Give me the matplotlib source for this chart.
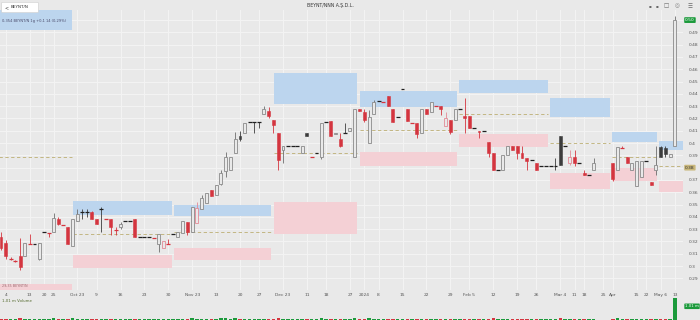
import matplotlib
matplotlib.use("Agg")
import matplotlib.pyplot as plt
from matplotlib.patches import Rectangle, FancyBboxPatch

# ---------------- data ----------------
opens = [0.324, 0.319, 0.306, 0.304, 0.308, 0.308, 0.318, 0.318, 0.306, 0.328,
         0.327, 0.328, 0.338, 0.333, 0.332, 0.316, 0.337, 0.344, 0.344, 0.344,
         0.338, 0.346, 0.338, 0.338, 0.329, 0.332, 0.337, 0.337, 0.338, 0.324,
         0.324, 0.324, 0.323, 0.318, 0.315, 0.318, 0.326, 0.324, 0.327, 0.336,
         0.328, 0.335, 0.346, 0.351, 0.362, 0.358, 0.367, 0.377, 0.378, 0.392,
         0.406, 0.408, 0.417, 0.417, 0.417, 0.424, 0.426, 0.419, 0.408, 0.394,
         0.398, 0.398, 0.398, 0.392, 0.408, 0.389, 0.392, 0.389, 0.417, 0.418,
         0.407, 0.403, 0.408, 0.410, 0.389, 0.428, 0.425, 0.400, 0.424, 0.434,
         0.433, 0.438, 0.428, 0.421, 0.444, 0.428, 0.416, 0.416, 0.408, 0.428,
         0.425, 0.430, 0.430, 0.414, 0.419, 0.419, 0.428, 0.422, 0.422, 0.412,
         0.410, 0.410, 0.401, 0.392, 0.378, 0.378, 0.390, 0.398, 0.398, 0.392,
         0.388, 0.386, 0.384, 0.381, 0.381, 0.381, 0.381, 0.406, 0.398, 0.384,
         0.389, 0.384, 0.376, 0.374, 0.378, None, None, None, 0.384, 0.378,
         0.396, 0.389, 0.378, 0.365, 0.372, 0.385, 0.368, 0.378, 0.397, 0.396,
         0.389, 0.398]
highs = [0.328, 0.321, 0.307, 0.305, 0.323, 0.319, 0.326, 0.318, 0.319, 0.328,
         0.327, 0.343, 0.340, 0.333, 0.332, 0.338, 0.346, 0.346, 0.346, 0.345,
         0.338, 0.348, 0.338, 0.338, 0.332, 0.336, 0.337, 0.337, 0.338, 0.324,
         0.324, 0.324, 0.323, 0.326, 0.320, 0.322, 0.326, 0.328, 0.337, 0.336,
         0.348, 0.352, 0.358, 0.359, 0.362, 0.366, 0.378, 0.393, 0.389, 0.409,
         0.410, 0.416, 0.417, 0.417, 0.417, 0.430, 0.429, 0.419, 0.408, 0.398,
         0.398, 0.398, 0.398, 0.398, 0.408, 0.389, 0.392, 0.416, 0.417, 0.418,
         0.408, 0.408, 0.416, 0.412, 0.428, 0.428, 0.428, 0.427, 0.435, 0.434,
         0.433, 0.438, 0.428, 0.421, 0.444, 0.428, 0.416, 0.416, 0.428, 0.428,
         0.433, 0.430, 0.430, 0.425, 0.419, 0.428, 0.428, 0.437, 0.422, 0.412,
         0.410, 0.410, 0.401, 0.392, 0.378, 0.390, 0.398, 0.398, 0.398, 0.398,
         0.388, 0.386, 0.384, 0.381, 0.381, 0.381, 0.388, 0.406, 0.398, 0.394,
         0.394, 0.384, 0.378, 0.374, 0.388, None, None, None, 0.384, 0.397,
         0.398, 0.389, 0.384, 0.385, 0.385, 0.385, 0.368, 0.398, 0.398, 0.398,
         0.391, 0.503]
lows = [0.313, 0.306, 0.305, 0.303, 0.297, 0.308, 0.318, 0.318, 0.305, 0.328,
        0.324, 0.328, 0.333, 0.333, 0.318, 0.316, 0.337, 0.338, 0.340, 0.338,
        0.334, 0.328, 0.338, 0.325, 0.325, 0.330, 0.337, 0.337, 0.324, 0.324,
        0.324, 0.324, 0.323, 0.311, 0.315, 0.318, 0.326, 0.324, 0.327, 0.325,
        0.328, 0.335, 0.346, 0.351, 0.357, 0.358, 0.366, 0.372, 0.378, 0.392,
        0.402, 0.408, 0.417, 0.408, 0.412, 0.424, 0.420, 0.408, 0.378, 0.384,
        0.398, 0.398, 0.398, 0.392, 0.406, 0.389, 0.392, 0.387, 0.417, 0.406,
        0.407, 0.397, 0.408, 0.410, 0.389, 0.426, 0.417, 0.400, 0.424, 0.434,
        0.433, 0.430, 0.417, 0.421, 0.444, 0.418, 0.416, 0.404, 0.408, 0.424,
        0.425, 0.430, 0.423, 0.414, 0.407, 0.419, 0.428, 0.408, 0.412, 0.412,
        0.404, 0.410, 0.389, 0.378, 0.378, 0.378, 0.390, 0.394, 0.387, 0.388,
        0.378, 0.386, 0.378, 0.381, 0.381, 0.381, 0.378, 0.382, 0.398, 0.382,
        0.381, 0.384, 0.374, 0.374, 0.378, None, None, None, 0.369, 0.378,
        0.396, 0.384, 0.378, 0.365, 0.372, 0.385, 0.366, 0.374, 0.389, 0.389,
        0.389, 0.398]
closes = [0.315, 0.308, 0.306, 0.304, 0.299, 0.319, 0.318, 0.318, 0.319, 0.328,
          0.327, 0.339, 0.334, 0.333, 0.318, 0.338, 0.342, 0.344, 0.344, 0.338,
          0.334, 0.346, 0.338, 0.332, 0.329, 0.334, 0.337, 0.337, 0.324, 0.324,
          0.324, 0.324, 0.323, 0.326, 0.320, 0.318, 0.326, 0.328, 0.337, 0.328,
          0.348, 0.347, 0.355, 0.359, 0.357, 0.366, 0.376, 0.389, 0.389, 0.403,
          0.403, 0.416, 0.417, 0.417, 0.417, 0.428, 0.422, 0.415, 0.386, 0.398,
          0.398, 0.398, 0.398, 0.398, 0.406, 0.389, 0.392, 0.416, 0.417, 0.406,
          0.408, 0.398, 0.408, 0.412, 0.428, 0.426, 0.419, 0.421, 0.433, 0.434,
          0.433, 0.430, 0.417, 0.421, 0.444, 0.418, 0.416, 0.407, 0.428, 0.424,
          0.433, 0.430, 0.428, 0.420, 0.409, 0.428, 0.428, 0.420, 0.412, 0.412,
          0.409, 0.410, 0.392, 0.378, 0.378, 0.390, 0.398, 0.394, 0.392, 0.388,
          0.385, 0.386, 0.378, 0.381, 0.381, 0.381, 0.381, 0.382, 0.398, 0.389,
          0.384, 0.384, 0.374, 0.374, 0.384, None, None, None, 0.371, 0.397,
          0.396, 0.384, 0.384, 0.385, 0.385, 0.385, 0.366, 0.382, 0.389, 0.391,
          0.391, 0.500]
volumes = [60, 55, 40, 35, 70, 65, 50, 45, 60, 55,
           50, 70, 60, 45, 65, 70, 60, 50, 45, 60,
           55, 65, 40, 60, 50, 45, 40, 40, 65, 40,
           40, 40, 40, 60, 50, 45, 45, 50, 60, 55,
           70, 65, 60, 65, 55, 60, 70, 75, 60, 70,
           65, 60, 40, 50, 45, 65, 60, 60, 80, 60,
           40, 40, 40, 55, 50, 40, 40, 75, 45, 65,
           45, 55, 50, 45, 80, 50, 60, 70, 60, 40,
           40, 60, 60, 40, 40, 60, 40, 60, 65, 55,
           55, 40, 50, 55, 60, 60, 40, 65, 60, 40,
           50, 40, 60, 70, 40, 60, 55, 50, 55, 50,
           50, 40, 55, 40, 40, 40, 50, 70, 40, 50,
           55, 40, 45, 40, 50, 0, 0, 0, 60, 70,
           45, 50, 50, 65, 60, 40, 45, 55, 60, 50,
           45, 1010]

tick_labels = ["4", "13", "20", "25", "Oct 23", "9", "16", "23", "30", "Nov 23",
               "13", "20", "27", "Dec 23", "11", "18", "27", "2024", "8", "15",
               "22", "29", "Feb 5", "12", "19", "26", "Mar 4", "11", "18", "25",
               "Apr", "15", "22", "May 6", "13"]
tick_idx = [1, 6, 9, 11, 16, 20, 25, 30, 35, 40,
            45, 50, 54, 59, 64, 68, 73, 76, 79, 84,
            89, 94, 98, 103, 108, 112, 117, 120, 122, 126,
            128, 133, 135, 138, 141]

# monthly zones (index span, supply box, demand box, mid line)
zone_start = [-0.5, 15.1, 36.2, 57.1, 75.1, 95.8, 114.9, 127.8, 137.7]
zone_end = [14.8, 35.8, 56.5, 74.5, 95.4, 114.4, 127.4, 137.2, 143.0]
supply_lo = [0.492, 0.3415, 0.341, 0.432, 0.429, 0.441, 0.421, 0.401, 0.394]
supply_hi = [0.520, 0.3529, 0.350, 0.457, 0.442, 0.451, 0.437, 0.409, 0.402]
demand_lo = [0.270, 0.298, 0.305, 0.326, 0.381, 0.397, 0.363, 0.369, 0.360]
demand_hi = [0.2855, 0.309, 0.315, 0.352, 0.393, 0.407, 0.376, 0.380, 0.369]
zone_mid = [0.389, 0.326, 0.328, 0.392, 0.411, 0.424, 0.400, 0.389, 0.381]

price_ticks = [0.29, 0.30, 0.31, 0.32, 0.33, 0.34, 0.35, 0.36, 0.37, 0.39,
               0.40, 0.41, 0.42, 0.43, 0.44, 0.45, 0.46, 0.47, 0.48, 0.49]
last_price = 0.50
ref_price = 0.38

# ---------------- style ----------------
BG = "#e9e9e9"
GRID = "#f3f3f3"
RED = "#d4353f"
DARK = "#3c3c3c"
HOLLOW = "#8a8a8a"
PINK = "#e38a96"
GREEN = "#1b9a3b"
BLUE_Z = "#bcd5ee"
PINK_Z = "#f4d0d5"
OLIVE = "#bcae72"

fig = plt.figure(figsize=(7, 3.2), dpi=100)
fig.patch.set_facecolor(BG)

W, H = 700.0, 320.0
ax = fig.add_axes([0, 30 / H, 683 / W, 280 / H])
ax.set_facecolor(BG)
ax.set_xlim(-0.21, 142.68)
ax.set_ylim(0.2805, 0.5082)
for s in ax.spines.values():
    s.set_visible(False)

# grid
for p in price_ticks + [0.38, 0.50]:
    ax.axhline(p, color=GRID, lw=0.8, zorder=0)
for t in tick_idx:
    ax.axvline(t, color=GRID, lw=0.8, zorder=0)

# zones
for i in range(len(zone_start)):
    x0, x1 = zone_start[i], zone_end[i]
    ax.add_patch(Rectangle((x0, supply_lo[i]), x1 - x0, supply_hi[i] - supply_lo[i],
                           facecolor=BLUE_Z, edgecolor="none", zorder=1))
    ax.add_patch(Rectangle((x0, demand_lo[i]), x1 - x0, demand_hi[i] - demand_lo[i],
                           facecolor=PINK_Z, edgecolor="none", zorder=1))
    ax.plot([x0, x1], [zone_mid[i], zone_mid[i]], color=OLIVE, lw=0.6,
            ls=(0, (4, 3)), zorder=1.5)

# candles
bw = 0.62
prev = None
for i in range(len(opens)):
    o, h, l, c = opens[i], highs[i], lows[i], closes[i]
    if o is None:
        continue
    ref = prev if prev is not None else o
    up = c > o
    if c < ref:
        col = PINK if up else RED
    else:
        col = HOLLOW if up else DARK
    wick_col = col if col != HOLLOW else "#6e6e6e"
    ax.plot([i, i], [l, h], color=wick_col, lw=0.6, zorder=3, solid_capstyle="butt")
    if abs(c - o) < 1e-9:
        dcol = RED if c < ref else "#202020"
        ax.plot([i - bw / 2 - 0.1, i + bw / 2 + 0.1], [c, c], color=dcol, lw=0.9,
                zorder=4, solid_capstyle="butt")
    else:
        lo_, hi_ = min(o, c), max(o, c)
        if up:
            ax.add_patch(Rectangle((i - bw / 2, lo_), bw, hi_ - lo_, facecolor=BG,
                                   edgecolor=col, lw=0.6, zorder=4))
        else:
            ax.add_patch(Rectangle((i - bw / 2, lo_), bw, hi_ - lo_, facecolor=col,
                                   edgecolor=col, lw=0.4, zorder=4))
    prev = c

# right price labels
ax.yaxis.tick_right()
ax.set_yticks(price_ticks)
ax.set_yticklabels([("%.2f" % p).rstrip("0") for p in price_ticks], fontsize=3.2,
                   color="#555555")
ax.tick_params(axis="y", length=0, pad=4)
ax.set_xticks(tick_idx)
ax.set_xticklabels(tick_labels, fontsize=3.2, color="#555555")
ax.tick_params(axis="x", length=0, pad=2)

# price badges
def badge(axis, yv, text, fc, tc, fs=3.2):
    axis.annotate(text, xy=(1.0, yv), xycoords=("axes fraction", "data"),
                  xytext=(1.5, 0), textcoords="offset points", fontsize=fs,
                  color=tc, va="center", ha="left", annotation_clip=False,
                  bbox=dict(boxstyle="round,pad=0.2", fc=fc, ec="none"))

badge(ax, last_price, "0.50", GREEN, "white")
badge(ax, ref_price, "0.38", "#c9b77a", "#333333")

# zone texts
ax.text(0.2, 0.4995, "0,354 BEYNT/N 1g +0,1 14 (0,29%)", fontsize=2.6,
        color="#4a4a6a", va="center", ha="left", zorder=6)
ax.text(0.2, 0.2835, "29,35 BEYNT/N", fontsize=2.4, color="#9a6a70",
        va="center", ha="left", zorder=6)

# volume panel
vax = fig.add_axes([0, 0, 683 / W, 23 / H])
vax.set_facecolor(BG)
vax.set_xlim(-0.21, 142.68)
vax.set_ylim(0, 1010 * 1.04)
for s in vax.spines.values():
    s.set_visible(False)
vax.set_xticks([])
vax.set_yticks([])
for i in range(len(volumes)):
    if opens[i] is None:
        continue
    vcol = GREEN if closes[i] >= opens[i] else RED
    vax.bar(i, volumes[i], width=0.72, color=vcol, linewidth=0)
vax.text(0.3, 1010 * 0.85, "1,01 m Volume", fontsize=2.8, color="#556b2f",
         va="center", ha="left")
badge(vax, 1010 * 0.62, "1.01 m", GREEN, "white", fs=2.8)

# header
fig.text(330 / W, 1 - 6 / H, "BEYNT/NNN A.Ş.D.L.", fontsize=3.3, color="#333333",
         ha="center", va="center")
fig.patches.append(FancyBboxPatch((3 / W, 1 - 12 / H), 34 / W, 9 / H,
                                  boxstyle="round,pad=0.002", fc="white", ec="#cccccc",
                                  lw=0.4, transform=fig.transFigure, figure=fig))
fig.text(4.5 / W, 1 - 7.5 / H, "<", fontsize=3.5, color="#444444", ha="left", va="center")
fig.text(11 / W, 1 - 7.5 / H, "BEYNT/N", fontsize=3.0, color="#333333", ha="left",
         va="center")
fig.text(690 / W, 1 - 6 / H, "☰", fontsize=4, color="#666666", ha="center", va="center")
fig.text(677 / W, 1 - 6 / H, "◎", fontsize=4, color="#888888", ha="center", va="center")
fig.text(666 / W, 1 - 6 / H, "□", fontsize=4, color="#666666", ha="center", va="center")
fig.text(657 / W, 1 - 6 / H, "▪", fontsize=3, color="#666666", ha="center", va="center")
fig.text(650 / W, 1 - 6 / H, "▪", fontsize=3, color="#666666", ha="center", va="center")

fig.savefig("out.png", dpi=100, facecolor=BG)
